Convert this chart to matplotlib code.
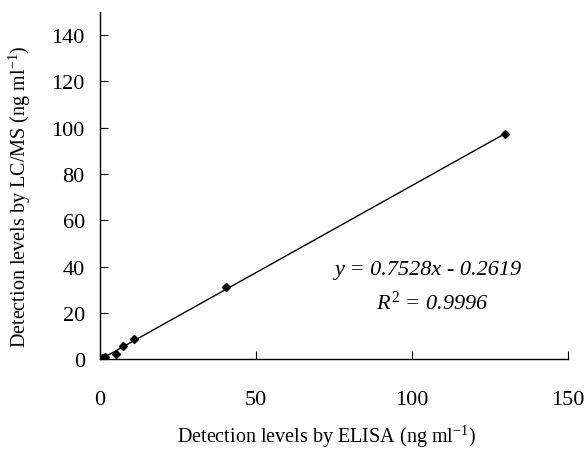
import matplotlib
matplotlib.use("Agg")
import matplotlib.pyplot as plt
import numpy as np

plt.rcParams['font.family'] = ['Liberation Serif', 'DejaVu Serif']
plt.rcParams['mathtext.fontset'] = 'custom'
plt.rcParams['mathtext.rm'] = 'Liberation Serif'
plt.rcParams['mathtext.it'] = 'Liberation Serif:italic'

elisa = [0.5, 1.5, 5.2, 7.5, 10.8, 40.5, 129.8]
lcms = [0.3, 0.9, 2.3, 5.7, 8.6, 31.0, 97.4]
slope = 0.7528
intercept = -0.2619
r2 = 0.9996

fig = plt.figure(figsize=(5.85, 4.52), dpi=100)
ax = fig.add_axes([0.171, 0.2035, 0.8, 0.7675])

xf = np.array([0, max(elisa)])
ax.plot(xf, slope * xf + intercept, color='black', lw=1.0)
ax.plot(elisa, lcms, linestyle='none', marker='D', color='black', markersize=4.5)

ax.set_xlim(0, 150)
ax.set_ylim(0, 150)
ax.set_xticks([0, 50, 100, 150])
ax.set_yticks([0, 20, 40, 60, 80, 100, 120, 140])
for s in ['top', 'right']:
    ax.spines[s].set_visible(False)
for s in ['left', 'bottom']:
    ax.spines[s].set_linewidth(1.0)
ax.tick_params(axis='x', direction='in', length=6, pad=22, labelsize=16)
ax.tick_params(axis='y', direction='in', length=6, pad=11, labelsize=16)

ax.set_xlabel('Detection levels by ELISA (ng ml$^{-1}$)', fontsize=14.5)
ax.set_ylabel('Detection levels by LC/MS (ng ml$^{-1}$)', fontsize=14.5)
ax.xaxis.set_label_coords(0.483, -0.184)
ax.yaxis.set_label_coords(-0.143, 0.47)

ax.text(105.4, 38.8, 'y = 0.7528x - 0.2619', fontsize=16, style='italic', ha='center', va='center')
ax.text(106.5, 24.6, '$R^{2}$ = 0.9996', fontsize=16, style='italic', ha='center', va='center')

fig.savefig('out.png', dpi=100)
